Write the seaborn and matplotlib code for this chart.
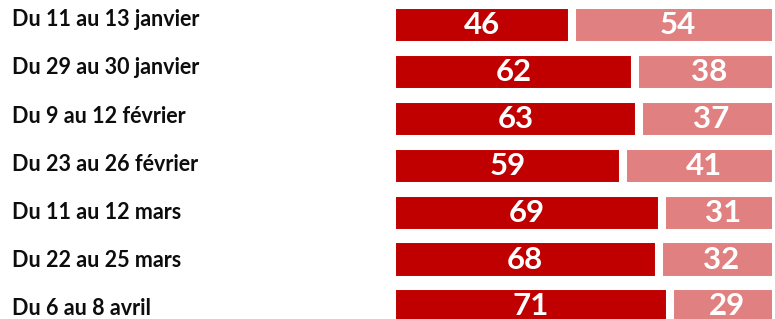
"""
Stacked horizontal bars: share of answers per survey wave
"""

import pandas as pd
import seaborn as sns
import matplotlib.pyplot as plt

# data
periods = ['Du 11 au 13 janvier', 'Du 29 au 30 janvier', 'Du 9 au 12 février',
           'Du 23 au 26 février', 'Du 11 au 12 mars', 'Du 22 au 25 mars',
           'Du 6 au 8 avril']
first_share = [46, 62, 63, 59, 69, 68, 71]
second_share = [54, 38, 37, 41, 31, 32, 29]

dark_red = '#C00000'
light_red = '#E08080'

df = pd.DataFrame({'period': periods,
                   'first': first_share,
                   'second': second_share})
df['total'] = df['first'] + df['second']

sns.set_style('white')
plt.rcParams['font.family'] = ['Lato', 'DejaVu Sans']

fig = plt.figure(figsize=(7.75, 3.19), dpi=100)
# plot area is cut a bit before 100 on the right, like the original crop
ax = fig.add_axes([392 / 775, 0, 380 / 775, 1])

# light bar for the full total, dark bar on top; white edges make the gaps
bar_kw = dict(orient='h', width=0.86, edgecolor='white', linewidth=5.8,
              saturation=1, ax=ax)
sns.barplot(data=df, x='total', y='period', color=light_red, **bar_kw)
sns.barplot(data=df, x='first', y='period', color=dark_red, **bar_kw)

# numbers centred in each segment
for i, row in df.iterrows():
    ax.text(row['first'] / 2, i, str(row['first']), ha='center',
            va='center', color='white', fontsize=22.5, fontweight='bold')
    ax.text(row['first'] + row['second'] / 2, i, str(row['second']),
            ha='center', va='center', color='white', fontsize=22.5,
            fontweight='bold')

ax.set_xlim(0, 380 / 3.92)
ax.set_ylim(6.267, -0.537)
ax.set_xticks([])
ax.set_yticks([])
ax.set_xlabel('')
ax.set_ylabel('')
sns.despine(ax=ax, left=True, bottom=True)

# category labels on their own grid at the left
for i, label in enumerate(periods):
    y_px = 19.8 + i * 48.15
    fig.text(12 / 775, 1 - y_px / 319, label, ha='left', va='center',
             fontsize=15.5, fontweight='bold', color='#0D0D0D')

fig.savefig('out.png', dpi=100)
